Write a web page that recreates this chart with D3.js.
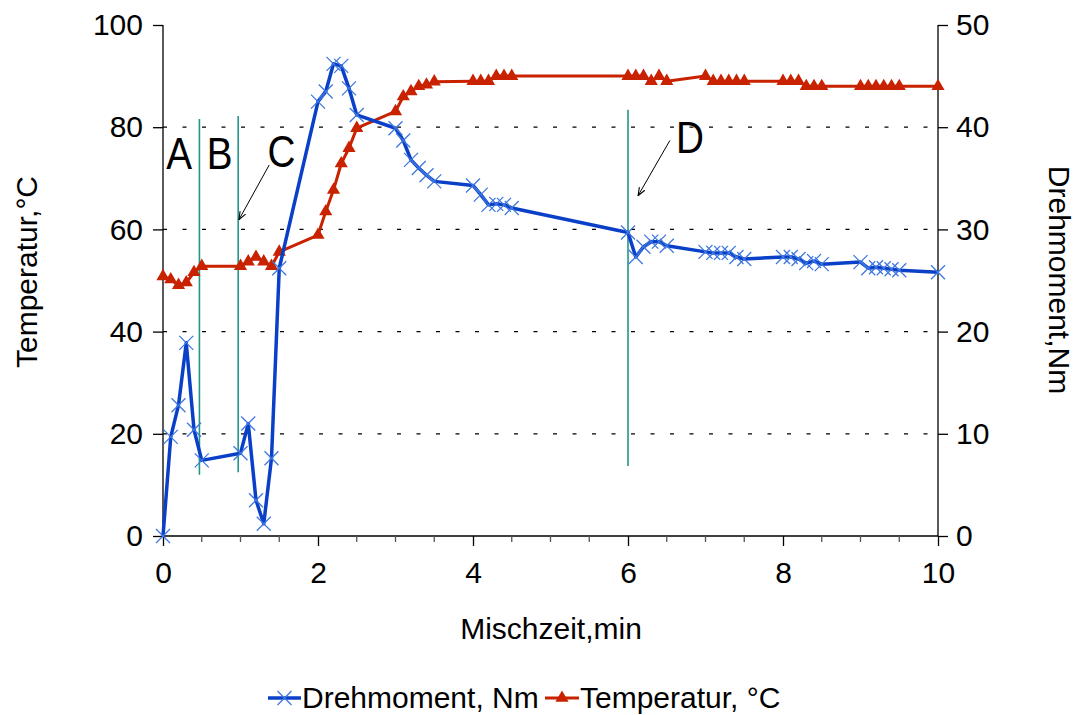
<!DOCTYPE html>
<html lang="de">
<head>
<meta charset="UTF-8">
<title>Mischzeit</title>
<script src="https://d3js.org/d3.v7.min.js"></script>
<style>
  body { margin: 0; background: #fff; }
  svg text { font-family: "Liberation Sans", Arial, Helvetica, sans-serif; fill: #000; }
</style>
</head>
<body>
<svg width="1079" height="715" id="mainsvg"></svg>
<script>
// Drehmoment (rechte Achse, Nm)
const torqueTime = [0, 0.1, 0.2, 0.3, 0.4, 0.5, 1.0, 1.1, 1.2, 1.3, 1.4, 1.5,
  2.0, 2.1, 2.2, 2.3, 2.4, 2.5, 3.0, 3.1, 3.2, 3.3, 3.4, 3.5,
  4.0, 4.1, 4.2, 4.3, 4.4, 4.5, 6.0, 6.1, 6.2, 6.3, 6.4, 6.5,
  7.0, 7.1, 7.2, 7.3, 7.4, 7.5, 8.0, 8.1, 8.2, 8.3, 8.4, 8.5,
  9.0, 9.1, 9.2, 9.3, 9.4, 9.5, 10]
const torqueNm = [0, 9.7, 12.8, 18.9, 10.4, 7.4, 8.1, 11.0, 3.5, 1.2, 7.6, 26.2,
  42.5, 43.5, 46.2, 46.0, 43.8, 41.2, 39.9, 38.7, 36.8, 36.0, 35.3, 34.7,
  34.3, 33.4, 32.4, 32.5, 32.4, 32.1, 29.7, 27.3, 28.3, 28.8, 28.8, 28.4,
  27.8, 27.7, 27.7, 27.7, 27.3, 27.1, 27.3, 27.3, 27.1, 26.7, 26.9, 26.6,
  26.8, 26.2, 26.3, 26.2, 26.1, 26.0, 25.8]

// Temperatur (linke Achse, °C)
const tempTime = torqueTime
const tempC = [50.8, 50.2, 49.1, 49.6, 51.6, 52.8, 52.8, 53.7, 54.6, 53.7, 52.8, 55.6,
  58.9, 63.5, 67.7, 72.9, 75.9, 79.8, 83.1, 86.0, 87.0, 88.0, 88.3, 88.9,
  89.0, 89.0, 89.0, 90.0, 90.0, 90.0, 90.0, 90.0, 90.0, 89.0, 90.0, 89.0,
  90.0, 89.0, 89.0, 89.0, 89.0, 89.0, 89.0, 89.0, 89.0, 88.0, 88.0, 88.0,
  88.0, 88.0, 88.0, 88.0, 88.0, 88.0, 88.0]

// Phasengrenzen (x in min, y-Bereich in °C) und Beschriftungen
const phaseX = [0.47, 0.97, 6.0]
const phaseTop = [81.6, 82.2, 83.4]
const phaseBottom = [12.0, 12.5, 13.7]
const phaseLabels = ["A", "B", "C", "D"]
const phaseLabelX = [0.21, 0.73, 1.53, 6.8]
const phaseLabelY = [71.8, 71.8, 72.3, 75.0]
// Pfeile: Start (Label) -> Ziel (Linie)
const arrowFrom = [[1.37, 72.6], [6.54, 77.4]]
const arrowTo = [[0.98, 61.9], [6.13, 66.6]]

const leftTicks = [0, 20, 40, 60, 80, 100]
const rightTicks = [0, 10, 20, 30, 40, 50]
const xTicks = [0, 2, 4, 6, 8, 10]
const xMinorTicks = d3.range(0, 10.01, 0.5)
const gridValues = [20, 40, 60, 80]

const svg = d3.select("#mainsvg")
const margin = {top: 25, left: 163, right: 141, bottom: 179}
const width = +svg.attr("width"), height = +svg.attr("height")
const innerWidth = width - margin.left - margin.right
const innerHeight = height - margin.top - margin.bottom
const g = svg.append("g").attr("transform", `translate(${margin.left}, ${margin.top})`)

const xScale = d3.scaleLinear().domain([0, 10]).range([0, innerWidth])
const yLeft = d3.scaleLinear().domain([0, 100]).range([innerHeight, 0])
const yRight = d3.scaleLinear().domain([0, 50]).range([innerHeight, 0])

const blue = "#0a3fc8", blueMark = "#3f78e0", red = "#c82200", teal = "#23958a"
const fontSize = 30

// gridlines
g.selectAll(".grid").data(gridValues).join("line")
  .attr("x1", 0).attr("x2", innerWidth)
  .attr("y1", d => yLeft(d)).attr("y2", d => yLeft(d))
  .attr("stroke", "#000").attr("stroke-width", 1.3)
  .attr("stroke-dasharray", "4 15.5")

// axes
const axisLeft = d3.axisLeft(yLeft).tickValues(leftTicks).tickSize(10).tickPadding(10)
const axisRight = d3.axisRight(yRight).tickValues(rightTicks).tickSize(10).tickPadding(8)
const axisBottom = d3.axisBottom(xScale).tickValues(xTicks).tickSize(10).tickPadding(16)

function styleAxis(sel) {
  sel.select(".domain").attr("stroke", "#000").attr("stroke-width", 1.3)
  sel.selectAll(".tick line").attr("stroke", "#000").attr("stroke-width", 1.3)
  sel.selectAll(".tick text").style("font-size", fontSize + "px").attr("fill", "#000")
  sel.attr("font-family", null)
}
g.append("g").call(axisLeft).call(styleAxis).select(".domain").attr("d", `M0,${innerHeight}V0`)
g.append("g").attr("transform", `translate(${innerWidth},0)`).call(axisRight).call(styleAxis)
  .select(".domain").attr("d", `M0,${innerHeight}V0`)
g.append("g").attr("transform", `translate(0,${innerHeight})`).call(axisBottom).call(styleAxis)
  .select(".domain").attr("d", `M0,0H${innerWidth}`)
// minor x ticks
g.selectAll(".minor").data(xMinorTicks.filter(d => !xTicks.includes(d))).join("line")
  .attr("x1", d => xScale(d)).attr("x2", d => xScale(d))
  .attr("y1", innerHeight).attr("y2", innerHeight + 6)
  .attr("stroke", "#555").attr("stroke-width", 1.3)

// axis titles
svg.append("text").attr("transform", "translate(37, 272) rotate(-90)")
  .attr("text-anchor", "middle").style("font-size", fontSize + "px").text("Temperatur,°C")
svg.append("text").attr("transform", "translate(1049, 280) rotate(90)")
  .attr("text-anchor", "middle").style("font-size", fontSize + "px").text("Drehmoment,Nm")
svg.append("text").attr("x", 551).attr("y", 639)
  .attr("text-anchor", "middle").style("font-size", fontSize + "px").text("Mischzeit,min")

// phase lines
g.selectAll(".phase").data(phaseX).join("line")
  .attr("x1", d => xScale(d)).attr("x2", d => xScale(d))
  .attr("y1", (d, i) => yLeft(phaseTop[i])).attr("y2", (d, i) => yLeft(phaseBottom[i]))
  .attr("stroke", teal).attr("stroke-width", 1.6)

// arrows
svg.append("defs").append("marker").attr("id", "arr")
  .attr("viewBox", "0 0 10 10").attr("refX", 9).attr("refY", 5)
  .attr("markerWidth", 9).attr("markerHeight", 9).attr("orient", "auto")
  .append("path").attr("d", "M0,1.5 L9,5 L0,8.5").attr("fill", "none").attr("stroke", "#000").attr("stroke-width", 1.2)
g.selectAll(".arrow").data(arrowFrom).join("line")
  .attr("x1", d => xScale(d[0])).attr("y1", d => yLeft(d[1]))
  .attr("x2", (d, i) => xScale(arrowTo[i][0])).attr("y2", (d, i) => yLeft(arrowTo[i][1]))
  .attr("stroke", "#000").attr("stroke-width", 1).attr("marker-end", "url(#arr)")

// phase letters
g.selectAll(".plabel").data(phaseLabels).join("text")
  .attr("x", (d, i) => xScale(phaseLabelX[i])).attr("y", (d, i) => yLeft(phaseLabelY[i]))
  .attr("text-anchor", "middle").style("font-size", "45px")
  .attr("transform", (d, i) => `translate(${xScale(phaseLabelX[i])},0) scale(0.86,1) translate(${-xScale(phaseLabelX[i])},0)`)
  .text(d => d)

// series
const torqueData = torqueTime.map((t, i) => ({x: t, y: torqueNm[i]}))
const tempData = tempTime.map((t, i) => ({x: t, y: tempC[i]}))

g.append("path").datum(tempData)
  .attr("fill", "none").attr("stroke", red).attr("stroke-width", 3)
  .attr("stroke-linejoin", "round")
  .attr("d", d3.line().x(d => xScale(d.x)).y(d => yLeft(d.y)))
const tri = d3.symbol().type(d3.symbolTriangle).size(75)
g.selectAll(".tri").data(tempData).join("path")
  .attr("transform", d => `translate(${xScale(d.x)},${yLeft(d.y)})`)
  .attr("d", tri).attr("fill", red)

g.append("path").datum(torqueData)
  .attr("fill", "none").attr("stroke", blue).attr("stroke-width", 3.5)
  .attr("stroke-linejoin", "round")
  .attr("d", d3.line().x(d => xScale(d.x)).y(d => yRight(d.y)))
const cross = "M-7,-7L7,7M-7,7L7,-7"
g.selectAll(".cross").data(torqueData).join("path")
  .attr("transform", d => `translate(${xScale(d.x)},${yRight(d.y)})`)
  .attr("d", cross).attr("stroke", blueMark).attr("stroke-width", 1.3).attr("fill", "none")

// legend
const legend = svg.append("g").attr("transform", "translate(0,698)")
legend.append("line").attr("x1", 268).attr("x2", 301).attr("stroke", blue).attr("stroke-width", 3.5)
legend.append("path").attr("transform", "translate(284.5,0)").attr("d", cross)
  .attr("stroke", blueMark).attr("stroke-width", 1.3)
legend.append("text").attr("x", 302).attr("y", 10).style("font-size", fontSize + "px").text("Drehmoment, Nm")
legend.append("line").attr("x1", 545).attr("x2", 579).attr("stroke", red).attr("stroke-width", 3)
legend.append("path").attr("transform", "translate(562,0)").attr("d", tri).attr("fill", red)
legend.append("text").attr("x", 580).attr("y", 10).style("font-size", fontSize + "px").text("Temperatur, °C")
</script>
</body>
</html>
